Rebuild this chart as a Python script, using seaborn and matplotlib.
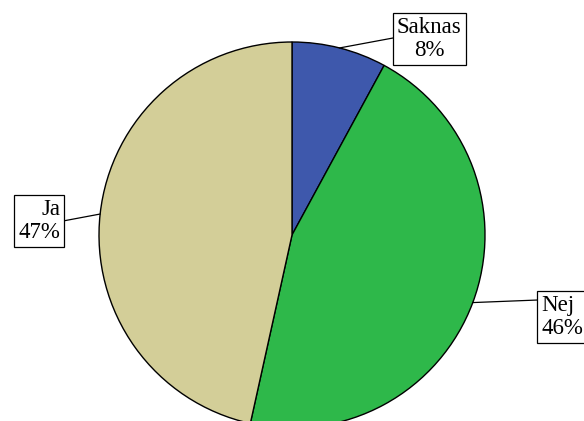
import numpy as np
import matplotlib
matplotlib.use("Agg")
import matplotlib.pyplot as plt
import seaborn as sns

categories = ["Saknas", "Nej", "Ja"]
percentages = [8, 46, 47]
colors = ["#3E58AC", "#2EB84A", "#D3CE98"]

sns.set_style("white")
plt.rcParams["font.family"] = ["Liberation Serif", "DejaVu Serif"]

W, H = 584, 421
fig = plt.figure(figsize=(W / 100, H / 100), dpi=100)
ax = fig.add_axes([0, 0, 1, 1])

cx, cy, r = 292, H - 235, 193
wedges, _ = ax.pie(
    percentages,
    colors=colors,
    startangle=90,
    counterclock=False,
    center=(cx, cy),
    radius=r,
    wedgeprops=dict(edgecolor="black", linewidth=1.0),
)

# label boxes: (x, y) of text anchor, alignment
label_pos = {
    "Saknas": (429, H - 39, "center"),
    "Nej": (541, H - 317, "left"),
    "Ja": (60, H - 221, "right"),
}
# where each leader line meets the box
line_end = {
    "Saknas": (393, H - 38),
    "Nej": (538, H - 300),
    "Ja": (63, H - 221),
}

for w, cat, pct in zip(wedges, categories, percentages):
    mid = np.deg2rad((w.theta1 + w.theta2) / 2)
    px, py = cx + r * np.cos(mid), cy + r * np.sin(mid)
    tx, ty, ha = label_pos[cat]
    ex, ey = line_end[cat]
    ax.plot([px, ex], [py, ey], color="black", lw=0.9)
    ax.text(
        tx, ty, f"{cat}\n{pct}%",
        ha=ha, va="center", fontsize=16.5, linespacing=1.1,
        multialignment=ha, color="black",
        bbox=dict(boxstyle="square,pad=0.18", facecolor="white",
                  edgecolor="black", linewidth=0.9),
    )

ax.set_xlim(0, W)
ax.set_ylim(0, H)
ax.set_aspect("equal")
ax.axis("off")
fig.savefig("out.png", dpi=100)
